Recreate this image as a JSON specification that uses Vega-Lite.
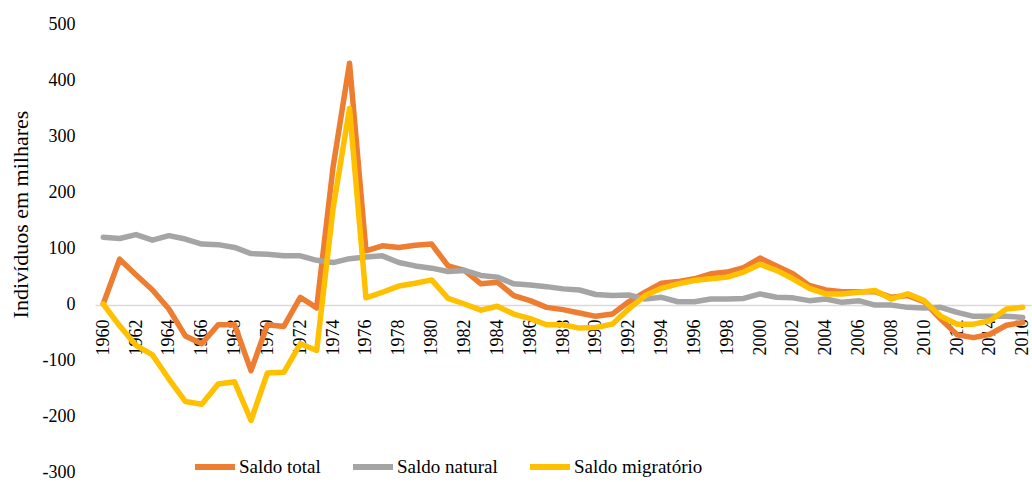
{
  "$schema": "https://vega.github.io/schema/vega-lite/v6.json",
  "width": 936,
  "height": 448,
  "autosize": "none",
  "padding": {"left": 95, "top": 24, "right": 1, "bottom": 10},
  "background": "white",
  "config": {
    "view": {"stroke": null},
    "font": "'Liberation Serif', 'DejaVu Serif', serif",
    "axis": {"labelFont": "'Liberation Serif', 'DejaVu Serif', serif", "titleFont": "'Liberation Serif', 'DejaVu Serif', serif", "labelColor": "#000000", "titleColor": "#000000"},
    "legend": {"labelFont": "'Liberation Serif', 'DejaVu Serif', serif", "labelColor": "#000000"}
  },
  "datasets": {
    "wide": [
      {"year": 1960, "T": 0, "N": 119, "M": 0},
      {"year": 1961, "T": 80, "N": 117, "M": -39},
      {"year": 1962, "T": 52, "N": 124, "M": -74},
      {"year": 1963, "T": 25, "N": 114, "M": -91},
      {"year": 1964, "T": -9, "N": 122, "M": -134},
      {"year": 1965, "T": -57, "N": 116, "M": -174},
      {"year": 1966, "T": -71, "N": 107, "M": -179},
      {"year": 1967, "T": -37, "N": 106, "M": -143},
      {"year": 1968, "T": -37, "N": 101, "M": -139},
      {"year": 1969, "T": -119, "N": 90, "M": -208},
      {"year": 1970, "T": -37, "N": 89, "M": -123},
      {"year": 1971, "T": -40, "N": 86, "M": -122},
      {"year": 1972, "T": 12, "N": 86, "M": -71},
      {"year": 1973, "T": -7, "N": 78, "M": -83},
      {"year": 1974, "T": 245, "N": 74, "M": 171},
      {"year": 1975, "T": 430, "N": 81, "M": 349},
      {"year": 1976, "T": 95, "N": 84, "M": 11},
      {"year": 1977, "T": 104, "N": 86, "M": 21},
      {"year": 1978, "T": 101, "N": 74, "M": 32},
      {"year": 1979, "T": 105, "N": 68, "M": 37},
      {"year": 1980, "T": 107, "N": 64, "M": 43},
      {"year": 1981, "T": 68, "N": 58, "M": 10},
      {"year": 1982, "T": 60, "N": 60, "M": 0},
      {"year": 1983, "T": 36, "N": 51, "M": -11},
      {"year": 1984, "T": 39, "N": 48, "M": -4},
      {"year": 1985, "T": 15, "N": 36, "M": -18},
      {"year": 1986, "T": 6, "N": 34, "M": -26},
      {"year": 1987, "T": -6, "N": 31, "M": -37},
      {"year": 1988, "T": -10, "N": 27, "M": -37},
      {"year": 1989, "T": -16, "N": 25, "M": -43},
      {"year": 1990, "T": -22, "N": 17, "M": -42},
      {"year": 1991, "T": -18, "N": 15, "M": -36},
      {"year": 1992, "T": 4, "N": 16, "M": -9},
      {"year": 1993, "T": 21, "N": 9, "M": 15},
      {"year": 1994, "T": 37, "N": 12, "M": 28},
      {"year": 1995, "T": 40, "N": 4, "M": 36},
      {"year": 1996, "T": 45, "N": 4, "M": 42},
      {"year": 1997, "T": 54, "N": 9, "M": 45},
      {"year": 1998, "T": 57, "N": 9, "M": 48},
      {"year": 1999, "T": 65, "N": 10, "M": 57},
      {"year": 2000, "T": 82, "N": 18, "M": 71},
      {"year": 2001, "T": 68, "N": 12, "M": 60},
      {"year": 2002, "T": 54, "N": 11, "M": 45},
      {"year": 2003, "T": 33, "N": 6, "M": 28},
      {"year": 2004, "T": 25, "N": 9, "M": 18},
      {"year": 2005, "T": 22, "N": 3, "M": 18},
      {"year": 2006, "T": 22, "N": 6, "M": 21},
      {"year": 2007, "T": 22, "N": -2, "M": 24},
      {"year": 2008, "T": 12, "N": -2, "M": 9},
      {"year": 2009, "T": 15, "N": -6, "M": 18},
      {"year": 2010, "T": 4, "N": -7, "M": 6},
      {"year": 2011, "T": -27, "N": -6, "M": -22},
      {"year": 2012, "T": -55, "N": -15, "M": -36},
      {"year": 2013, "T": -60, "N": -22, "M": -36},
      {"year": 2014, "T": -54, "N": -22, "M": -30},
      {"year": 2015, "T": -38, "N": -22, "M": -9},
      {"year": 2016, "T": -33, "N": -24, "M": -6}
    ]
  },
  "data": {"name": "wide"},
  "transform": [
    {"fold": ["T", "N", "M"], "as": ["key", "value"]},
    {"lookup": "key", "from": {"data": {"values": [
      {"key": "T", "series": "Saldo total", "ord": 1},
      {"key": "N", "series": "Saldo natural", "ord": 2},
      {"key": "M", "series": "Saldo migratório", "ord": 3}
    ]}, "key": "key", "fields": ["series", "ord"]}}
  ],
  "mark": {"type": "line", "strokeWidth": 5.5, "strokeCap": "round", "strokeJoin": "round"},
  "encoding": {
    "x": {
      "field": "year", "type": "quantitative",
      "scale": {"domain": [1959.5, 2016.5], "nice": false, "zero": false},
      "axis": {
        "title": null,
        "values": [1960,1962,1964,1966,1968,1970,1972,1974,1976,1978,1980,1982,1984,1986,1988,1990,1992,1994,1996,1998,2000,2002,2004,2006,2008,2010,2012,2014,2016],
        "labelExpr": "'' + datum.value",
        "labelAngle": -90,
        "labelAlign": "right",
        "labelBaseline": "middle",
        "labelFontSize": 18,
        "labelPadding": 14,
        "labelOverlap": false,
        "labelFlush": false,
        "ticks": false,
        "grid": false,
        "domainColor": "#d9d9d9",
        "domainWidth": 1.5,
        "offset": -167
      }
    },
    "y": {
      "field": "value", "type": "quantitative",
      "scale": {"domain": [-300, 500], "nice": false},
      "axis": {
        "title": "Indivíduos em milhares",
        "titleFontSize": 22,
        "titleFontWeight": "normal",
        "titleAngle": -90,
        "titleX": -75,
        "titleY": 190,
        "titleAlign": "center",
        "titleBaseline": "middle",
        "values": [-300, -200, -100, 0, 100, 200, 300, 400, 500],
        "labelExpr": "'' + datum.value",
        "labelFontSize": 18,
        "labelPadding": 20,
        "ticks": false,
        "domain": false,
        "grid": false
      }
    },
    "color": {
      "field": "series", "type": "nominal",
      "sort": ["Saldo total", "Saldo natural", "Saldo migratório"],
      "scale": {"domain": ["Saldo total", "Saldo natural", "Saldo migratório"], "range": ["#ED7D31", "#A5A5A5", "#FFC000"]},
      "legend": {
        "title": null,
        "orient": "none",
        "direction": "horizontal",
        "legendX": 97,
        "legendY": 420,
        "symbolType": "stroke",
        "symbolSize": 1600,
        "symbolStrokeWidth": 6,
        "labelFontSize": 19,
        "labelOffset": 1,
        "columnPadding": 20,
        "padding": 0,
        "labelLimit": 300
      }
    },
    "order": {"field": "ord"}
  }
}
